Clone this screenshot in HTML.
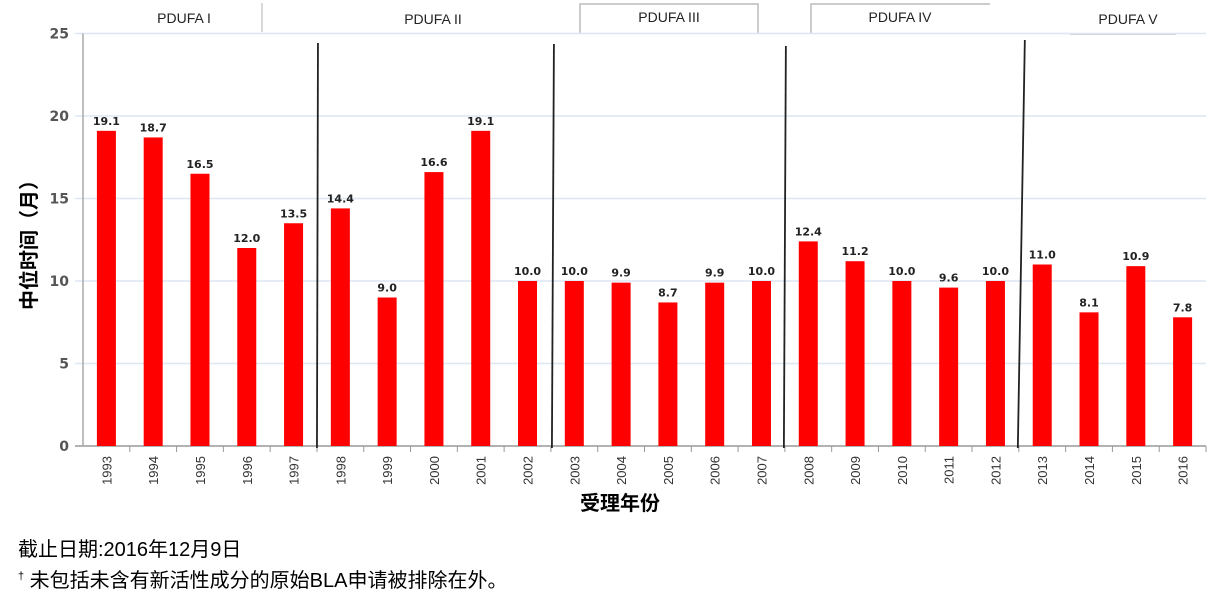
<!DOCTYPE html>
<html><head><meta charset="utf-8"><style>
body{margin:0;background:#fff;width:1217px;height:605px;overflow:hidden;font-family:"Liberation Sans","Noto Sans CJK SC",sans-serif}
.fn{position:absolute;left:18px;font-size:20px;color:#000;font-family:"Liberation Sans","Noto Sans CJK SC",sans-serif}
</style></head><body>
<svg id="chart" width="1217" height="605" style="position:absolute;left:0;top:0">
<g id="tabs" font-family="Liberation Sans, DejaVu Sans, sans-serif" font-size="14" fill="#222" text-anchor="middle">
<text x="184" y="23">PDUFA I</text>
<line x1="262" y1="3" x2="262" y2="32" stroke="#ccc" stroke-width="1.5"/>
<text x="433" y="24">PDUFA II</text>
<path d="M580 33 V4 H758 V33" fill="none" stroke="#bbb" stroke-width="1.5"/>
<text x="669" y="22">PDUFA III</text>
<path d="M811 33 V4 H990" fill="none" stroke="#bbb" stroke-width="1.5"/>
<text x="900" y="22">PDUFA IV</text>
<line x1="1070" y1="34" x2="1176" y2="34" stroke="#bbb" stroke-width="1.5"/>
<text x="1128" y="24">PDUFA V</text>
</g>
<g id="grid"></g><g id="bars"></g><g id="axes"></g><g id="divs"></g>
<text x="620" y="510" font-size="20" font-weight="bold" text-anchor="middle" font-family="Liberation Sans, Noto Sans CJK SC, sans-serif">受理年份</text>
<text transform="translate(36,240) rotate(-90)" font-size="20" font-weight="bold" text-anchor="middle" font-family="Liberation Sans, Noto Sans CJK SC, sans-serif">中位时间（月）</text>
</svg>
<div class="fn" style="top:533px">截止日期:2016年12月9日</div>
<div class="fn" style="top:564px"><sup style="font-size:11px">†</sup> 未包括未含有新活性成分的原始BLA申请被排除在外。</div>
<script>
const years=["1993","1994","1995","1996","1997","1998","1999","2000","2001","2002","2003","2004","2005","2006","2007","2008","2009","2010","2011","2012","2013","2014","2015","2016"];
const values=[19.1,18.7,16.5,12.0,13.5,14.4,9.0,16.6,19.1,10.0,10.0,9.9,8.7,9.9,10.0,12.4,11.2,10.0,9.6,10.0,11.0,8.1,10.9,7.8];
const yTicks=[0,5,10,15,20,25];
const dividerAfter=[4,9,14,19];
const NS="http://www.w3.org/2000/svg";
const x0=83,x1=1206,yBase=446,yTop=33.5,yMax=25;
const bw=(x1-x0)/years.length;
const y=v=>yBase-(v/yMax)*(yBase-yTop);
const xc=i=>x0+bw*(i+0.5);
function mk(p,t,a){const e=document.createElementNS(NS,t);for(const k in a)e.setAttribute(k,a[k]);document.getElementById(p).appendChild(e);return e;}
yTicks.forEach(t=>{
 const l=mk('grid','line',{x1:x0-8,x2:x1,y1:y(t),y2:y(t),stroke:t===0?'#999':'#dde6f3','stroke-width':1.5});
 
 
 const tx=mk('axes','text',{x:x0-14,y:y(t)+5,'text-anchor':'end','font-size':14,'font-weight':'bold',fill:'#555','font-family':'DejaVu Sans, sans-serif'});
 tx.textContent=t;
 
 
});
mk('axes','line',{x1:x0,x2:x0,y1:yTop,y2:yBase,stroke:'#aaa','stroke-width':1.5});
years.forEach((yr,i)=>{
 const v=values[i];
 const r=mk('bars','rect',{x:xc(i)-9.5,y:y(v),width:19,height:yBase-y(v),fill:'#ff0000'});
 
 
 const lb=mk('bars','text',{x:xc(i),y:y(v)-6,'text-anchor':'middle','font-size':11,'font-weight':'bold',fill:'#222','font-family':'DejaVu Sans, sans-serif'});
 lb.textContent=v.toFixed(1);
 
 
 mk('axes','line',{x1:x0+bw*(i+1),x2:x0+bw*(i+1),y1:yBase,y2:yBase+6,stroke:'#999'});
 const yl=mk('axes','text',{transform:`translate(${xc(i)+5},${yBase+10}) rotate(-90)`,'text-anchor':'end','font-size':13,fill:'#333','font-family':'Liberation Sans Narrow, Liberation Sans, sans-serif'});
 yl.textContent=yr;
 
 
});
const tops=[43,44,46,40],topOff=[1,3,1,6],botOff=[0,1,-1,-1];
dividerAfter.forEach((k,j)=>{
 const xx=x0+bw*(k+1);
 const d=mk('divs','line',{x1:xx+topOff[j],x2:xx+botOff[j],y1:tops[j],y2:yBase+2,stroke:'#222','stroke-width':1.8});
 
 
});
</script>
</body></html>
